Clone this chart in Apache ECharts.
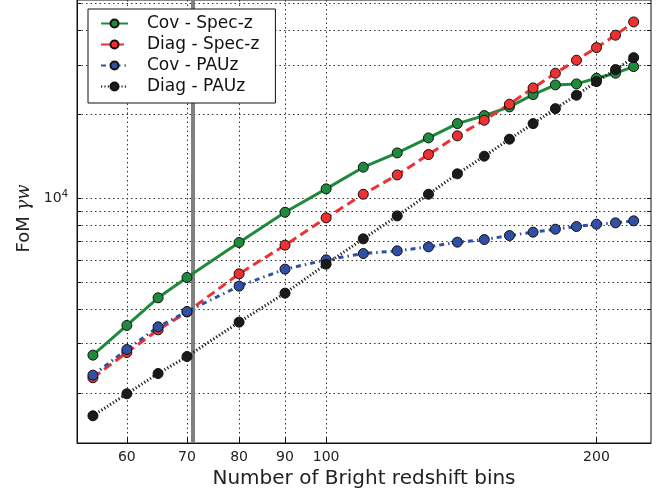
<!DOCTYPE html>
<html>
<head>
<meta charset="utf-8">
<script src="https://cdn.jsdelivr.net/npm/echarts@6/dist/echarts.min.js"></script>
<style>
html,body{margin:0;padding:0;background:#fff;}
#chart{width:670px;height:494px;}
</style>
</head>
<body>
<div id="chart"></div>
<script>
// ---- Data ----
const bins = [55, 60, 65, 70, 80, 90, 100, 110, 120, 130, 140, 150, 160, 170, 180, 190, 200, 210, 220];
const covSpecz  = [2730, 3490, 4385, 5190, 6930, 8900, 10800, 12920, 14540, 16460, 18530, 19800, 21270, 23550, 25520, 25730, 26970, 28110, 29690];
const diagSpecz = [2264, 2790, 3365, 3900, 5347, 6780, 8495, 10330, 12120, 14340, 16740, 19050, 21760, 24890, 28110, 31300, 34740, 38490, 42950];
const covPAUz   = [2314, 2860, 3450, 3916, 4831, 5559, 6003, 6326, 6468, 6685, 6950, 7100, 7338, 7546, 7735, 7907, 8065, 8152, 8290];
const diagPAUz  = [1653, 1983, 2345, 2698, 3587, 4559, 5794, 7143, 8637, 10330, 12230, 14150, 16290, 18530, 20970, 23430, 26220, 28960, 31970];
const seriesNames = ['Cov - Spec-z', 'Diag - Spec-z', 'Cov - PAUz', 'Diag - PAUz'];
const xTickValues = [60, 70, 80, 90, 100, 200];
const yGridValues = [2000, 3000, 4000, 5000, 6000, 7000, 8000, 9000, 10000, 20000, 30000, 40000, 50000];
const yLabelValues = [10000];
const refLineX = 71;

const pair = (xs, ys) => xs.map((x, i) => [x, ys[i]]);

const chart = echarts.init(document.getElementById('chart'), null, {renderer: 'canvas'});
const FONT = 'DejaVu Sans';

function mkSeries(name, data, color, lineType) {
  return {
    name: name,
    type: 'line',
    data: data,
    symbol: 'circle',
    symbolSize: 10,
    showAllSymbol: true,
    z: 5,
    lineStyle: {color: color, width: 3, type: lineType},
    itemStyle: {color: color, borderColor: '#111', borderWidth: 1},
    emphasis: {disabled: true},
    animation: false
  };
}

const option = {
  animation: false,
  backgroundColor: '#fff',
  textStyle: {fontFamily: FONT},
  grid: {left: 77, right: 19, top: 0, bottom: 51, outerBoundsMode: 'none', containLabel: false,
    show: true, borderColor: '#111', borderWidth: 1, backgroundColor: 'transparent'},
  legend: {
    show: true,
    z: 20,
    left: 88, top: 9,
    orient: 'vertical',
    backgroundColor: '#fff',
    borderColor: '#111',
    borderWidth: 1,
    borderRadius: 0,
    padding: [6, 16, 8, 12],
    itemWidth: 27,
    itemHeight: 10,
    itemGap: 4,
    textStyle: {fontFamily: FONT, fontSize: 17, color: '#111', padding: [0, 0, 0, 14]},
    data: seriesNames
  },
  xAxis: [{
    type: 'log',
    logBase: 10,
    min: 52.8,
    max: 230,
    name: 'Number of Bright redshift bins',
    nameLocation: 'middle',
    nameGap: 26,
    nameTextStyle: {fontFamily: FONT, fontSize: 20, color: '#222'},
    axisLine: {show: true, lineStyle: {color: '#111', width: 1}},
    axisTick: {show: true, inside: true, length: 5, customValues: xTickValues, lineStyle: {color: '#111'}},
    axisLabel: {show: true, customValues: xTickValues, fontFamily: FONT, fontSize: 14, color: '#222', margin: 7},
    splitLine: {show: true, lineStyle: {color: '#333', type: [1.5, 3], width: 1}},
    minorTick: {show: false}
  }],
  yAxis: [{
    type: 'log',
    logBase: 10,
    min: 1320,
    max: 51500,
    name: 'FoM {i|γw}',
    nameLocation: 'middle',
    nameGap: 44,
    nameRotate: 90,
    nameTextStyle: {fontFamily: FONT, fontSize: 18, color: '#222', padding: [0, 0, 0, 6],
      rich: {i: {fontFamily: 'DejaVu Serif', fontStyle: 'italic', fontSize: 18, color: '#222'}}},
    axisLine: {show: true, lineStyle: {color: '#111', width: 1}},
    axisTick: {show: true, inside: true, length: 4, customValues: yGridValues, lineStyle: {color: '#111'}},
    axisLabel: {show: true, customValues: yLabelValues, fontFamily: FONT, fontSize: 14, color: '#222', margin: 9,
      formatter: function (v) { return '10{sup|4}'; },
      rich: {sup: {fontSize: 10, verticalAlign: 'top', padding: [0, 0, 8, 0], fontFamily: FONT, color: '#222'}}},
    splitLine: {show: true, lineStyle: {color: '#333', type: [1.5, 3], width: 1}},
    minorTick: {show: false}
  }, {
    type: 'log',
    logBase: 10,
    min: 1320,
    max: 51500,
    position: 'right',
    axisLine: {show: false},
    axisTick: {show: true, inside: true, length: 4, customValues: yGridValues, lineStyle: {color: '#111'}},
    axisLabel: {show: false},
    splitLine: {show: false}
  }],
  series: [
    {
      name: 'ref',
      type: 'line',
      data: [],
      z: 2,
      silent: true,
      markLine: {
        silent: true,
        symbol: ['none', 'none'],
        label: {show: false},
        lineStyle: {color: '#808080', width: 4, type: 'solid'},
        data: [{xAxis: refLineX}],
        animation: false
      }
    },
    mkSeries(seriesNames[0], pair(bins, covSpecz), '#1f8a3c', 'solid'),
    mkSeries(seriesNames[1], pair(bins, diagSpecz), '#ee3030', [9, 5]),
    mkSeries(seriesNames[2], pair(bins, covPAUz), '#3050a5', [5, 4, 1.5, 4]),
    mkSeries(seriesNames[3], pair(bins, diagPAUz), '#1a1a1a', [1.2, 2.2])
  ]
};
chart.setOption(option);
</script>
</body>
</html>
